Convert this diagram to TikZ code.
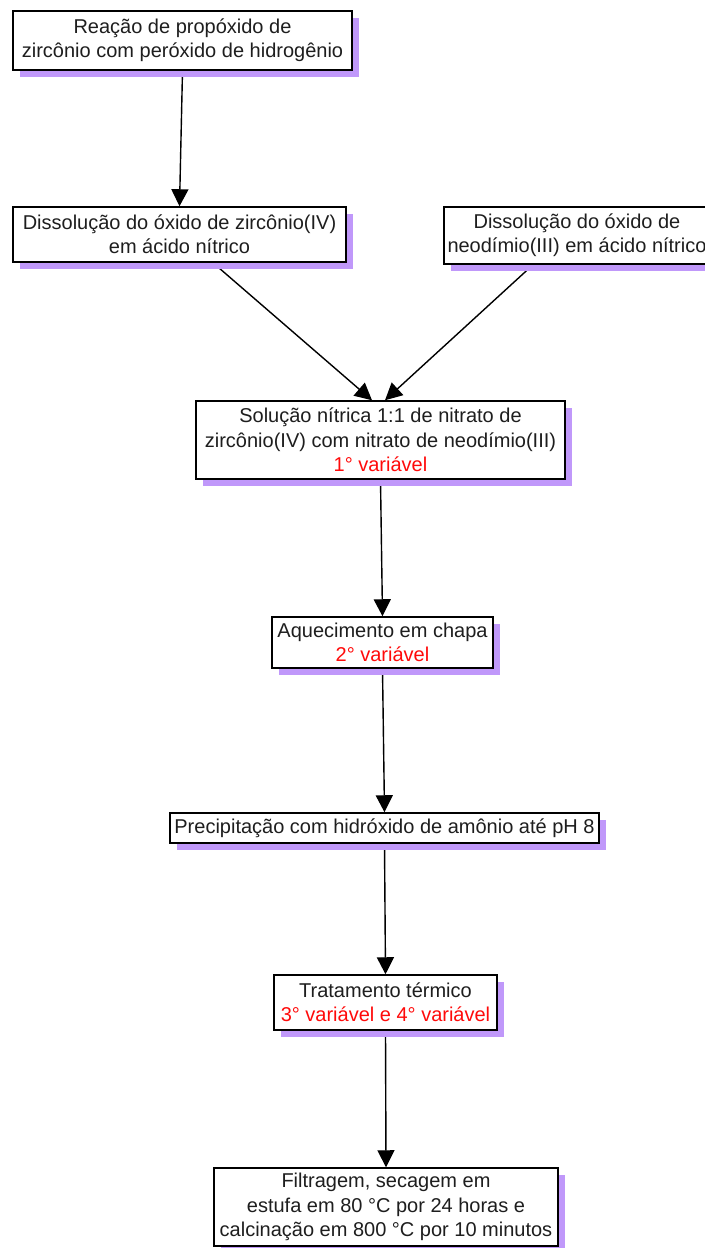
\documentclass[tikz,border=0pt]{standalone}
\usepackage{fontspec}
\setmainfont{Liberation Sans}
\usetikzlibrary{shadows,arrows.meta,calc}
\pgfdeclarelayer{background}
\pgfsetlayers{background,main}
\definecolor{shadowc}{RGB}{192,152,250}
\definecolor{redtxt}{RGB}{255,10,10}
\definecolor{txt}{RGB}{30,30,30}
\tikzset{
  stepbox/.style={draw=black, line width=0.75pt, fill=white, inner sep=0pt,
    align=center, text=txt, font=\fontsize{10}{12.2}\selectfont,
    drop shadow={shadow xshift=3.5pt, shadow yshift=-3.5pt, fill=shadowc, opacity=1}},
  conn/.style={line width=0.7pt, -{Triangle[width=8.5pt,length=8.5pt]}},
  var/.style={text=redtxt}
}
\begin{document}
\begin{tikzpicture}[x=0.5pt,y=-0.5pt]
\useasboundingbox (0,0) rectangle (705,1248);
\node[stepbox, minimum width=169.5pt, minimum height=29.5pt] (b1) at (182.5,40.5)
  {Reação de propóxido de\\zircônio com peróxido de hidrogênio};
\node[stepbox, minimum width=166.5pt, minimum height=27.5pt] (b2) at (179.5,234.5)
  {Dissolução do óxido de zircônio(IV)\\em ácido nítrico};
\node[stepbox, minimum width=133pt, minimum height=28.5pt] (b3) at (577,235.5)
  {Dissolução do óxido de\\neodímio(III) em ácido nítrico};
\node[stepbox, minimum width=184.5pt, minimum height=39pt] (b4) at (380.5,440)
  {Solução nítrica 1:1 de nitrato de\\zircônio(IV) com nitrato de neodímio(III)\\\textcolor{redtxt}{1° variável}};
\node[stepbox, minimum width=110.5pt, minimum height=25.5pt] (b5) at (382.5,642.5)
  {Aquecimento em chapa\\\textcolor{redtxt}{2° variável}};
\node[stepbox, minimum width=214.5pt, minimum height=15pt] (b6) at (384.5,828)
  {Precipitação com hidróxido de amônio até pH 8};
\node[stepbox, minimum width=111.5pt, minimum height=27.5pt] (b7) at (385.5,1002.5)
  {Tratamento térmico\\\textcolor{redtxt}{3° variável e 4° variável}};
\node[stepbox, minimum width=172pt, minimum height=39pt] (b8) at (386,1207)
  {Filtragem, secagem em\\estufa em 80 °C por 24 horas e\\calcinação em 800 °C por 10 minutos};
\begin{pgfonlayer}{background}
\draw[conn] (b1.south) -- (b2.north);
\draw[conn] ($(b2.south)+(33.5,0)$) -- ($(b4.north)+(-8.5,0)$);
\draw[conn] ($(b3.south)+(-44,0)$) -- ($(b4.north)+(4.5,0)$);
\draw[conn] (b4.south) -- (b5.north);
\draw[conn] (b5.south) -- (b6.north);
\draw[conn] (b6.south) -- (b7.north);
\draw[conn] (b7.south) -- (b8.north);
\end{pgfonlayer}
\end{tikzpicture}
\end{document}
